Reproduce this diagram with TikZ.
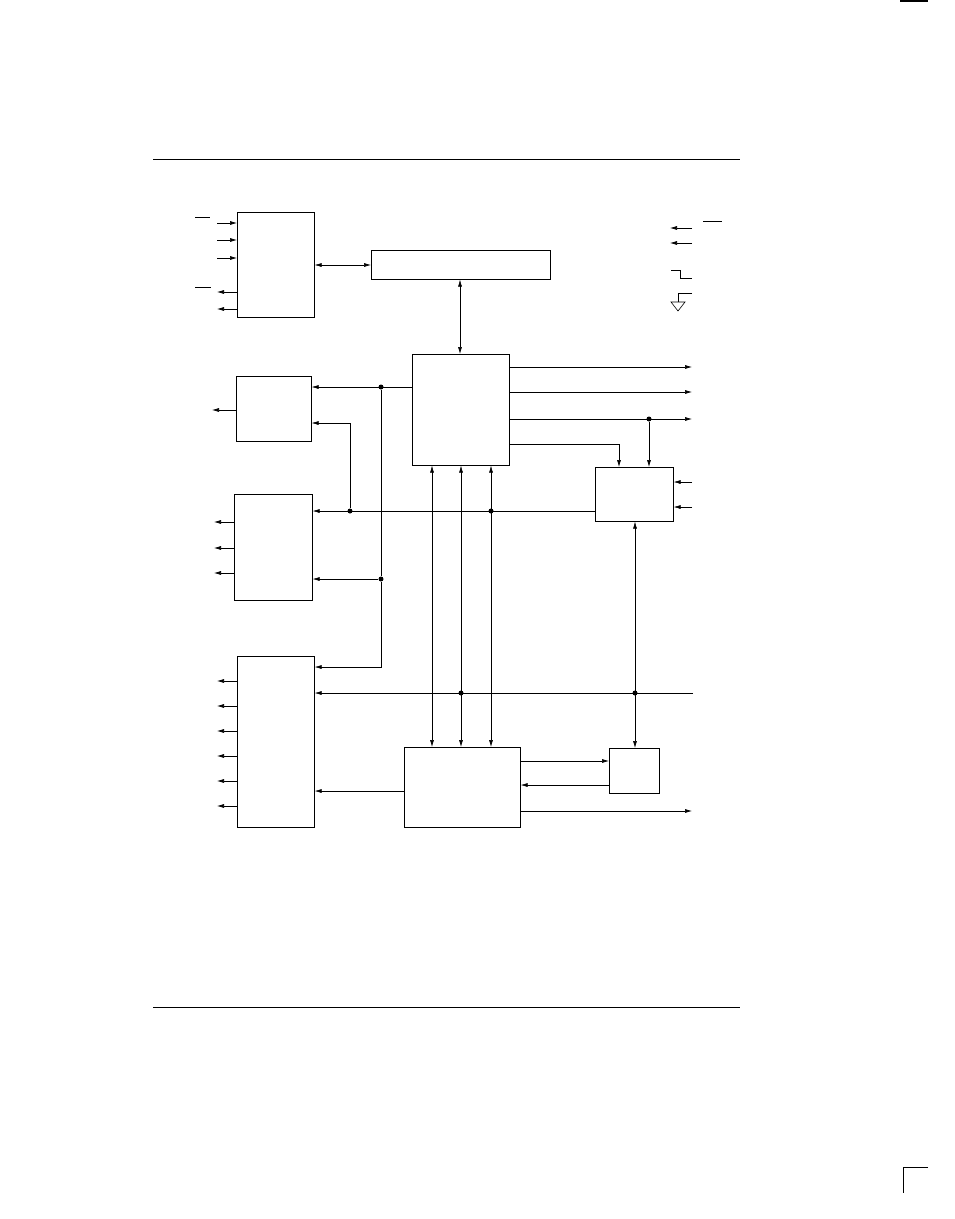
\documentclass[tikz,border=0pt]{standalone}
\usetikzlibrary{arrows.meta}
\begin{document}
\begin{tikzpicture}[x=1pt,y=-1pt,line width=0.6pt,
  box/.style={draw,inner sep=0pt,anchor=north west},
  ar/.style={-{Latex[length=7pt,width=4pt]}},
  dar/.style={{Latex[length=7pt,width=4pt]}-{Latex[length=7pt,width=4pt]}},
  dot/.style={circle,fill,inner sep=0pt,minimum size=5pt}]
\useasboundingbox (0,0) rectangle (954,1219);
\newcommand{\bx}[5]{\node[box,minimum width=#4-#2,minimum height=#5-#3] (#1) at (#2,#3) {};}
\bx{A}{237}{212}{314}{317}
\bx{B}{371}{250}{550}{279}
\bx{C}{412}{354}{509}{465}
\bx{D}{236}{376}{311}{441}
\bx{E}{234}{494}{312}{600}
\bx{F}{237}{656}{314}{827}
\bx{G}{404}{747}{520}{827}
\bx{H}{595}{467}{673}{521}
\bx{I}{609}{748}{659}{793}
% rules
\draw (153,159) -- (740,159);
\draw (153,1007) -- (740,1007);
\draw[line width=2pt] (900,1) -- (928,1);
\draw (928,1167) -- (903,1167) -- (903,1193);
% A signals
\draw (195,217) -- (210,217);
\foreach \y in {223,240,258} {\coordinate (ai\y) at (217,\y); \draw[ar] (ai\y) -- (A.west |- ai\y);}
\draw (195,287) -- (211,287);
\foreach \y in {292,309} {\coordinate (ao\y) at (217,\y); \draw[ar] (A.west |- ao\y) -- (ao\y);}
\draw[dar] (A.east |- 0,265) -- (B.west |- 0,265);
\draw[dar] (B.south -| 460,0) -- (C.north -| 460,0);
% right top signals
\draw (703,221) -- (722,221);
\foreach \y in {228,243} {\coordinate (ri\y) at (692,\y); \coordinate (rt\y) at (670,\y); \draw[ar] (ri\y) -- (rt\y);}
\draw (671,270) -- (680,270) -- (680,278) -- (692,278);
\draw (692,293) -- (678,293) -- (678,302);
\draw (671,302) -- (685,302) -- (678,311) -- cycle;
% D, E
\coordinate (d1) at (212,410); \draw[ar] (D.west |- d1) -- (d1);
\foreach \y in {522,548,573} {\coordinate (e\y) at (214,\y); \draw[ar] (E.west |- e\y) -- (e\y);}
\foreach \y in {681,706,731,756,781,806} {\coordinate (f\y) at (217,\y); \draw[ar] (F.west |- f\y) -- (f\y);}
% C left
\node[dot] (j1) at (381,387) {};
\node[dot] (j2) at (381,579) {};
\draw[ar] (C.west |- j1) -- (D.east |- j1);
\draw (j1) -- (j2);
\draw[ar] (j2) -- (E.east |- j2);
\coordinate (k1) at (381,667);
\draw[ar] (j2) -- (k1) -- (F.east |- k1);
\node[dot] (j3) at (350,511) {};
\node[dot] (j4) at (491,511) {};
\coordinate (k2) at (350,423);
\draw[ar] (j3) -- (k2) -- (D.east |- k2);
\draw[ar] (H.west |- j3) -- (E.east |- j3);
% vertical buses
\foreach \x in {432,461,491} {\draw[dar] (C.south -| \x,0) -- (G.north -| \x,0);}
\node[dot] (j5) at (461,693) {};
\node[dot] (j6) at (635,693) {};
\coordinate (k3) at (693,693);
\draw[ar] (k3) -- (F.east |- k3);
\draw[dar] (H.south -| j6) -- (I.north -| j6);
% C right
\coordinate (o1) at (692,367); \draw[ar] (C.east |- o1) -- (o1);
\coordinate (o2) at (692,392); \draw[ar] (C.east |- o2) -- (o2);
\coordinate (o3) at (692,419); \draw[ar] (C.east |- o3) -- (o3);
\node[dot] (j7) at (649,419) {};
\draw[ar] (j7) -- (H.north -| j7);
\coordinate (k4) at (619,444);
\draw[ar] (C.east |- k4) -- (k4) -- (H.north -| k4);
\foreach \y in {482,507} {\coordinate (h\y) at (692,\y); \draw[ar] (h\y) -- (H.east |- h\y);}
% G
\draw[ar] (G.west |- 0,791) -- (F.east |- 0,791);
\draw[ar] (G.east |- 0,761) -- (I.west |- 0,761);
\draw[ar] (I.west |- 0,785) -- (G.east |- 0,785);
\coordinate (o4) at (692,811); \draw[ar] (G.east |- o4) -- (o4);
\end{tikzpicture}
\end{document}
